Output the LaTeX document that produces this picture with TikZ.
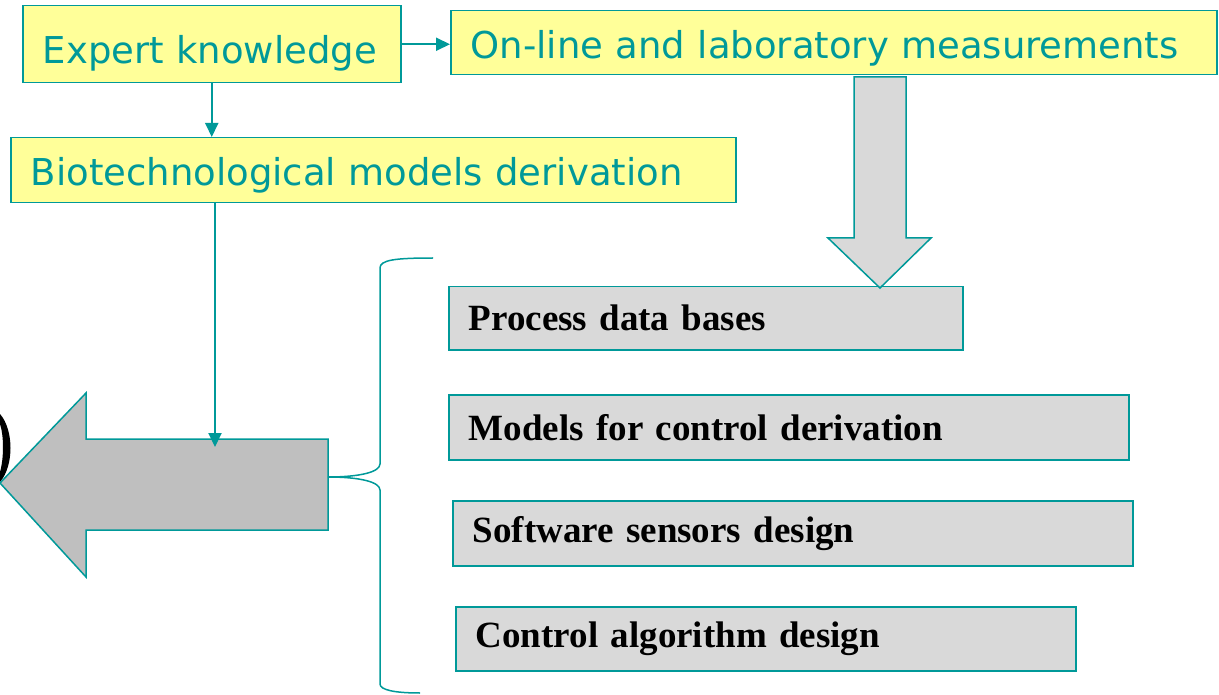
\documentclass[tikz,border=0pt]{standalone}
\usepackage{fontspec}
\setmainfont{Liberation Serif}
\newfontfamily\vfont{DejaVu Sans}
\usetikzlibrary{arrows.meta}
\definecolor{teal1}{HTML}{009999}
\definecolor{ylw}{HTML}{FFFF99}
\definecolor{gry}{HTML}{D9D9D9}
\definecolor{gry2}{HTML}{BFBFBF}
\begin{document}
\begin{tikzpicture}[x=1pt,y=-1pt,
  ybox/.style={draw=teal1, line width=1.5pt, fill=ylw, anchor=north west, inner xsep=20pt, inner ysep=0pt, align=left, font=\vfont\fontsize{37}{40}\selectfont, text=teal1, text depth=0pt, text height=31pt},
  gbox/.style={draw=teal1, line width=1.5pt, fill=gry, anchor=north west, inner xsep=20pt, inner ysep=0pt, align=left, font=\bfseries\fontsize{37}{40}\selectfont, text=black},
  conn/.style={draw=teal1, line width=2pt, -{Triangle[length=14pt,width=13pt]}},
  outl/.style={draw=teal1, line width=1.5pt}]
\useasboundingbox (0,0) rectangle (1219,695);
% black crescent at the left edge
\fill[black] (0,414) .. controls (14,430) and (14,466) .. (0,482) -- (0,472) .. controls (4,458) and (4,436) .. (0,424) -- cycle;
% yellow boxes
\node[ybox, text width=338pt, minimum height=77pt, text height=39pt] (ek) at (22,5) {Expert knowledge};
\node[ybox, text width=726pt, minimum height=64pt] (ol) at (450,10) {On-line and laboratory measurements};
\node[ybox, text width=685pt, minimum height=65pt] (bio) at (10,137) {Biotechnological models derivation};
% grey boxes
\node[gbox, text width=474pt, minimum height=63pt] (p1) at (448,286) {Process data bases};
\node[gbox, text width=640pt, minimum height=65pt] (p2) at (448,394) {Models for control derivation};
\node[gbox, text width=640pt, minimum height=65pt] (p3) at (452,500) {Software sensors design};
\node[gbox, text width=580pt, minimum height=64pt] (p4) at (455,606) {Control algorithm design};
% big left arrow
\draw[outl, fill=gry2] (0,483) -- (86,393) -- (86,439) -- (328,439) -- (328,530) -- (86,530) -- (86,577) -- cycle;
\coordinate (bt) at (215,447);
\coordinate (br) at (328,477);
% big hollow down arrow
\draw[outl, fill=gry] (854,77) -- (906,77) -- (906,238) -- (931,238) -- (880,288) -- (828,238) -- (854,238) -- cycle;
% connectors
\draw[conn] (ek.east) -- (ol.west |- ek.east);
\draw[conn] (ek.south) -- (bio.north -| ek.south);
\draw[conn] (bio.south -| bt) -- (bt);
% brace
\draw[outl] (433,258) .. controls (395,258) and (380,260) .. (380,268) -- (380,464)
  .. controls (380,472) and (360,477) .. (br)
  .. controls (360,477) and (380,482) .. (380,490) -- (380,684)
  .. controls (380,690) and (395,693) .. (420,693);
\end{tikzpicture}
\end{document}
